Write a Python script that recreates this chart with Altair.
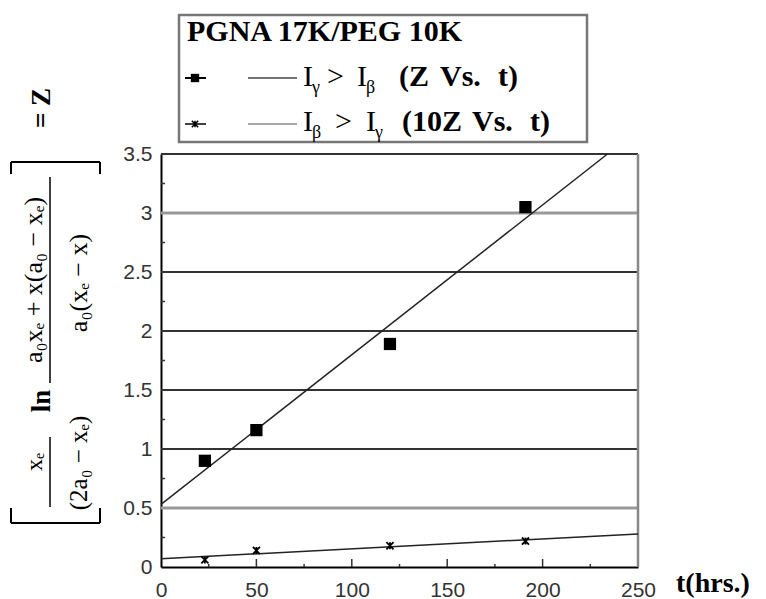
import altair as alt
import pandas as pd

# ---------------- data ----------------
t_hours = [23, 50, 120, 191]
z_values = [0.90, 1.16, 1.89, 3.05]          # Iγ > Iβ  (Z vs t)
z10_values = [0.06, 0.14, 0.18, 0.22]         # Iβ > Iγ  (10Z vs t)
fit_z_t = [0, 234]
fit_z = [0.53, 3.5]
fit_z10_t = [0, 250]
fit_z10 = [0.07, 0.28]
y_tick_values = [0, 0.5, 1, 1.5, 2, 2.5, 3, 3.5]
x_tick_values = [0, 50, 100, 150, 200, 250]
grid_dark = [1, 1.5, 2, 2.5]
grid_light = [0.5, 3]
y_minor = [0.25, 0.75, 1.25, 1.75, 2.25, 2.75, 3.25]
x_major_inner = [50, 100, 150, 200]
x_minor = [25, 75, 125, 175, 225]

# ---------------- layout ----------------
W, H = 477, 413
OX, OY = 161, 154
SERIF = "Liberation Serif"
SANS = "Liberation Sans"

pts = pd.DataFrame({"t": t_hours, "z": z_values, "z10": z10_values})
fitz = pd.DataFrame({"t": fit_z_t, "z": fit_z})
fitz10 = pd.DataFrame({"t": fit_z10_t, "z": fit_z10})
one = pd.DataFrame({"k": [0]})

xs = alt.Scale(domain=[0, 250], nice=False)
ys = alt.Scale(domain=[0, 3.5], nice=False)

x_axis = alt.Axis(values=x_tick_values, title=None, grid=False, ticks=False, tickSize=0,
                  labelFont=SANS, labelFontSize=21, labelColor="#333", labelPadding=12,
                  domainColor="black", domainWidth=2, labelFlush=False)
y_axis = alt.Axis(values=y_tick_values, title=None, grid=False, ticks=False, tickSize=0,
                  labelFont=SANS, labelFontSize=21, labelColor="#333", labelPadding=9,
                  domainColor="black", domainWidth=2, labelFlush=False, format="~g")


def X(field):
    return alt.X(field, scale=xs, axis=x_axis)


def Y(field):
    return alt.Y(field, scale=ys, axis=y_axis)


grid1 = alt.Chart(pd.DataFrame({"g": grid_dark})).mark_rule(color="#333", strokeWidth=1.8).encode(
    y=Y("g:Q"))
grid2 = alt.Chart(pd.DataFrame({"g": grid_light})).mark_rule(color="#999", strokeWidth=2.8).encode(
    y=Y("g:Q"))

top_line = alt.Chart(one).mark_rule(color="#333", strokeWidth=2).encode(
    x=alt.value(0), x2=alt.value(W), y=alt.value(0))
right_line = alt.Chart(one).mark_rule(color="#888", strokeWidth=2.5).encode(
    x=alt.value(W), y=alt.value(0), y2=alt.value(H))

ymin = alt.Chart(pd.DataFrame({"m": y_minor})).mark_rule(color="#333", strokeWidth=1.5).encode(
    y=Y("m:Q"), x=alt.value(0), x2=alt.value(4))
xmaj = alt.Chart(pd.DataFrame({"m": x_major_inner})).mark_rule(color="#333", strokeWidth=1.5).encode(
    x=X("m:Q"), y=alt.value(H), y2=alt.value(H - 8))
xmin = alt.Chart(pd.DataFrame({"m": x_minor})).mark_rule(color="#333", strokeWidth=1.5).encode(
    x=X("m:Q"), y=alt.value(H), y2=alt.value(H - 3))

line_z = alt.Chart(fitz).mark_line(color="#222", strokeWidth=1.5).encode(x=X("t:Q"), y=Y("z:Q"))
line_z10 = alt.Chart(fitz10).mark_line(color="#222", strokeWidth=1.5).encode(x=X("t:Q"), y=Y("z:Q"))

ASTER = "M-1,-1L1,1M1,-1L-1,1M0,-1L0,1"
sq = alt.Chart(pts).mark_point(shape="square", filled=True, color="black", size=150, opacity=1).encode(
    x=X("t:Q"), y=Y("z:Q"))
cr = alt.Chart(pts).mark_point(shape=ASTER, filled=False, color="black", size=50, strokeWidth=1.8, opacity=1).encode(
    x=X("t:Q"), y=Y("z10:Q"))


def txt(text, x, y, size, weight="normal", angle=0, align="left", font=SERIF, baseline="alphabetic", color="black"):
    return alt.Chart(one).mark_text(text=text, angle=angle, align=align, baseline=baseline, font=font,
                                    fontSize=size, fontWeight=weight, color=color).encode(
        x=alt.value(x - OX), y=alt.value(y - OY))


def rule(x1, y1, x2, y2, color="black", width=1.5):
    return alt.Chart(one).mark_rule(color=color, strokeWidth=width).encode(
        x=alt.value(x1 - OX), x2=alt.value(x2 - OX), y=alt.value(y1 - OY), y2=alt.value(y2 - OY))


def symbol(shape, x, y, size, filled=True, sw=1.5):
    return alt.Chart(one).mark_point(shape=shape, filled=filled, color="black", size=size, strokeWidth=sw, opacity=1).encode(
        x=alt.value(x - OX), y=alt.value(y - OY))


# legend box
legend_box = alt.Chart(one).mark_rect(fill="white", stroke="#777", strokeWidth=2.5).encode(
    x=alt.value(179 - OX), x2=alt.value(587 - OX), y=alt.value(15 - OY), y2=alt.value(142 - OY))

legend = [
    legend_box,
    txt("PGNA 17K/PEG 10K", 187, 41, 30, weight="bold"),
    rule(185, 78, 206, 78, width=2), symbol("square", 195, 78, 70),
    rule(248, 78, 297, 78, color="#444", width=1.5),
    txt("I", 303, 86, 30), txt("γ", 312, 93, 18), txt(">", 327, 86, 30),
    txt("I", 357, 86, 30), txt("β", 366, 93, 18),
    txt("(Z", 399, 86, 30, weight="bold"), txt("Vs.", 440, 86, 30, weight="bold"),
    txt("t)", 498, 86, 30, weight="bold"),
    rule(185, 124, 206, 124, width=1.5), symbol(ASTER, 195, 124, 40, filled=False),
    rule(248, 124, 297, 124, color="#888", width=1.5),
    txt("I", 303, 131, 30), txt("β", 312, 138, 18), txt(">", 335, 131, 30),
    txt("I", 366, 131, 30), txt("γ", 375, 138, 18),
    txt("(10Z", 402, 131, 30, weight="bold"), txt("Vs.", 472, 131, 30, weight="bold"),
    txt("t)", 530, 131, 30, weight="bold"),
]

# y-axis title (rotated math expression)
ytitle = [
    rule(11, 523, 100, 523, width=2), rule(11, 523, 11, 508, width=2), rule(100, 523, 100, 508, width=2),
    rule(11, 162, 100, 162, width=2), rule(11, 162, 11, 174, width=2), rule(100, 162, 100, 174, width=2),
    txt("xₑ", 42, 462, 24, angle=270, align="center"),
    rule(50, 437, 50, 507, width=1.5),
    txt("(2a₀ − xₑ)", 87, 463, 25, angle=270, align="center"),
    txt("ln", 50, 401, 27, angle=270, align="center", weight="bold"),
    txt("a₀xₑ + x(a₀ − xₑ)", 42, 280, 26, angle=270, align="center"),
    rule(50, 177, 50, 383, width=1.5),
    txt("a₀(xₑ − x)", 87, 283, 26, angle=270, align="center"),
    txt("= Z", 50, 108, 27, angle=270, align="center", weight="bold"),
]

xtitle = [txt("t(hrs.)", 676, 592, 28, weight="bold")]

chart = alt.layer(
    grid2, grid1, top_line, right_line, ymin, xmaj, xmin, line_z, line_z10, sq, cr,
    *legend, *ytitle, *xtitle
).properties(
    width=W, height=H,
    autosize=alt.AutoSizeParams(type="none"),
    padding={"left": OX, "top": OY, "right": 766 - OX - W, "bottom": 599 - OY - H},
).configure_view(stroke=None).configure(background="white")

chart.save("out.html", embed_options={"renderer": "svg", "actions": False})
